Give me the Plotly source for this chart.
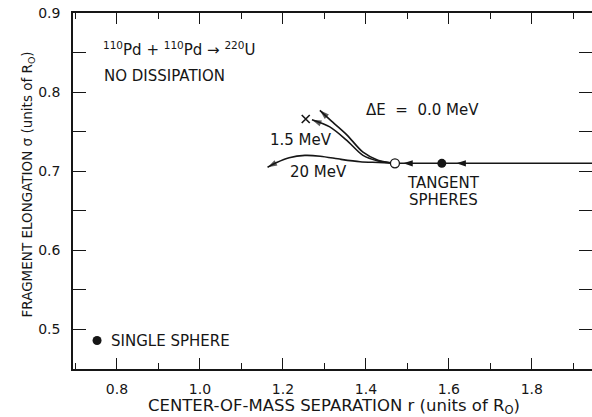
import plotly.graph_objects as go

# Data
incoming_r = [1.47, 1.96]
incoming_sigma = [0.71, 0.71]

de0_r = [1.47, 1.429, 1.393, 1.354, 1.320, 1.289]
de0_sigma = [0.710, 0.714, 0.724, 0.746, 0.762, 0.777]

de15_r = [1.47, 1.429, 1.393, 1.354, 1.313, 1.270]
de15_sigma = [0.710, 0.713, 0.720, 0.739, 0.756, 0.765]

de20_r = [1.47, 1.43, 1.386, 1.340, 1.290, 1.253, 1.215, 1.185, 1.163]
de20_sigma = [0.710, 0.711, 0.712, 0.715, 0.719, 0.720, 0.717, 0.711, 0.705]

cross_r = [1.255]
cross_sigma = [0.766]

tangent_r = [1.583]
tangent_sigma = [0.71]
contact_r = [1.47]
contact_sigma = [0.71]
single_r = [0.752]
single_sigma = [0.486]

incoming_arrow_r = [1.49, 1.618]
incoming_arrow_sigma = [0.71, 0.71]

INK = "#161616"
FONT = "DejaVu Sans, Liberation Sans, sans-serif"

fig = go.Figure()
fig.add_trace(go.Scatter(x=incoming_r, y=incoming_sigma, mode="lines",
                         line=dict(color=INK, width=1.6), hoverinfo="skip", showlegend=False))
for r, s in [(de0_r, de0_sigma), (de15_r, de15_sigma), (de20_r, de20_sigma)]:
    sizes = [0] * (len(r) - 1) + [10]
    fig.add_trace(go.Scatter(x=r, y=s, mode="lines+markers",
                             line=dict(color=INK, width=1.6, shape="spline", smoothing=0.8),
                             marker=dict(symbol="arrow", angleref="previous", size=sizes, color=INK,
                                         line=dict(width=0)),
                             hoverinfo="skip", showlegend=False))

# arrowheads on the incoming path (pointing toward smaller r)
fig.add_trace(go.Scatter(x=incoming_arrow_r, y=incoming_arrow_sigma, mode="markers",
                         marker=dict(symbol="arrow", angle=-90, size=10, color=INK, line=dict(width=0)),
                         hoverinfo="skip", showlegend=False))

fig.add_trace(go.Scatter(x=cross_r, y=cross_sigma, mode="markers",
                         marker=dict(symbol="x-thin", size=8, line=dict(color=INK, width=1.6)), showlegend=False))
fig.add_trace(go.Scatter(x=tangent_r + single_r, y=tangent_sigma + single_sigma, mode="markers",
                         marker=dict(symbol="circle", size=9, color=INK), showlegend=False))
fig.add_trace(go.Scatter(x=contact_r, y=contact_sigma, mode="markers",
                         marker=dict(symbol="circle", size=9, color="white", line=dict(color=INK, width=1.3)),
                         showlegend=False))

tfont = dict(family=FONT, size=15, color=INK)
texts = [
    (0.762, 0.855, "<sup>110</sup>Pd + <sup>110</sup>Pd → <sup>220</sup>U", "left"),
    (0.764, 0.820, "NO DISSIPATION", "left"),
    (1.396, 0.777, "ΔE  =  0.0 MeV", "left"),
    (1.164, 0.739, "1.5 MeV", "left"),
    (1.212, 0.699, "20 MeV", "left"),
    (1.586, 0.685, "TANGENT", "center"),
    (1.586, 0.663, "SPHERES", "center"),
    (0.781, 0.486, "SINGLE SPHERE", "left"),
]
for x, y, t, al in texts:
    fig.add_annotation(x=x, y=y, text=t, showarrow=False, xanchor=al, yanchor="middle", font=tfont)

# axis titles
fig.add_annotation(xref="paper", yref="paper", x=0.503, y=-0.104, yanchor="middle", xanchor="center",
                   text="CENTER-OF-MASS SEPARATION r (units of R<sub>O</sub>)", showarrow=False,
                   font=dict(family=FONT, size=16.5, color=INK))
fig.add_annotation(xref="paper", yref="paper", x=-0.087, y=0.518, yanchor="middle", xanchor="center",
                   textangle=-90, text="FRAGMENT ELONGATION σ (units of R<sub>O</sub>)", showarrow=False,
                   font=dict(family=FONT, size=13.5, color=INK))

fig.update_layout(
    width=592, height=417,
    margin=dict(l=73, r=0, t=13, b=48, autoexpand=False),
    paper_bgcolor="white", plot_bgcolor="white",
    font=dict(family=FONT, color=INK),
    showlegend=False,
)
fig.update_xaxes(
    range=[0.694, 1.945], dtick=0.2, tick0=0.0, tickformat=".1f",
    ticks="inside", ticklen=11, tickwidth=1.2, tickcolor=INK,
    minor=dict(dtick=0.1, ticks="inside", ticklen=6, tickwidth=1.2, tickcolor=INK),
    showline=True, linecolor=INK, linewidth=1.6, mirror="allticks",
    showgrid=False, zeroline=False, automargin=False, ticklabelstandoff=6,
    tickfont=dict(family=FONT, size=14, color=INK),
)
fig.update_yaxes(
    range=[0.45, 0.9], dtick=0.1, tickformat=".1f",
    ticks="inside", ticklen=13, tickwidth=1.2, tickcolor=INK,
    minor=dict(dtick=0.05, ticks="inside", ticklen=13, tickwidth=1.2, tickcolor=INK),
    showline=True, linecolor=INK, linewidth=1.6, mirror="ticks",
    showgrid=False, zeroline=False, automargin=False, ticklabelstandoff=8,
    tickfont=dict(family=FONT, size=14, color=INK),
)

fig.write_html("out.html", config={"displayModeBar": False},
               post_script="document.body.style.margin='0';document.body.style.overflow='hidden';")
